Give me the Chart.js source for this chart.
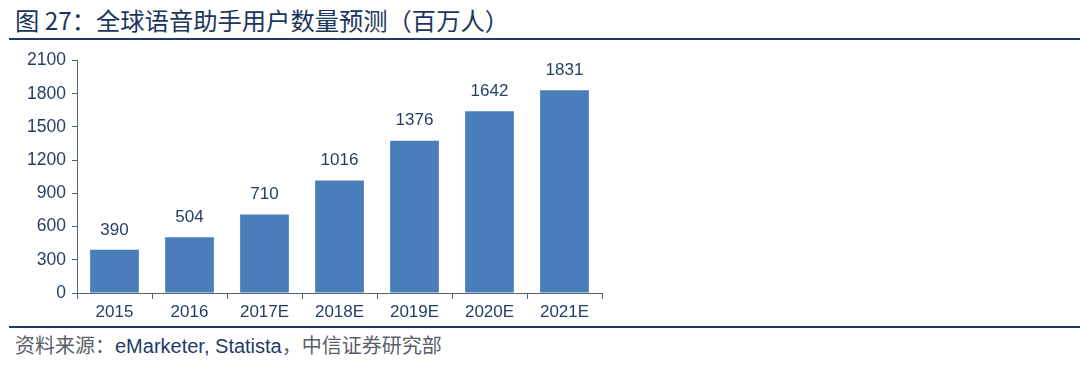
<!DOCTYPE html>
<html><head><meta charset="utf-8">
<script src="https://cdn.jsdelivr.net/npm/chart.js@4"></script>
<style>
html,body{margin:0;padding:0;background:#fff;width:1080px;height:365px;overflow:hidden;position:relative;}
#title{position:absolute;left:15px;top:4px;font-family:"Noto Sans CJK SC","Liberation Sans",sans-serif;font-size:24.3px;color:#1B365D;white-space:nowrap;line-height:32px;}
#line1{position:absolute;left:9px;right:0;top:38px;height:2px;background:#1F3A68;}
#line2{position:absolute;left:9px;right:0;top:326px;height:2px;background:#1F3A68;}
#src{position:absolute;left:15px;top:333px;font-size:20px;line-height:24px;white-space:nowrap;color:#333;}
#src .cn{font-family:"Noto Sans CJK SC",sans-serif;color:#5A5F6A;}
#src .en{font-family:"Liberation Sans",Arial,sans-serif;color:#1F3A68;}
#wrap{position:absolute;left:0;top:44px;width:612px;height:285px;}
</style></head>
<body>
<div id="title">图 27：全球语音助手用户数量预测（百万人）</div>
<div id="line1"></div>
<div id="wrap"><canvas id="c"></canvas></div>
<div id="line2"></div>
<div id="src"><span class="cn">资料来源：</span><span class="en">eMarketer, Statista</span><span class="cn">，中信证券研究部</span></div>
<script>
const categories = ["2015","2016","2017E","2018E","2019E","2020E","2021E"];
const users = [390,504,710,1016,1376,1642,1831];
const yTicks = [0,300,600,900,1200,1500,1800,2100];

const textColor = "#243F66";
const axisColor = "#5A6270";
const fontFam = "'Liberation Sans', Arial, sans-serif";

const labelPlugin = {
  id:"vals",
  afterDatasetsDraw(chart){
    const ctx = chart.ctx;
    const meta = chart.getDatasetMeta(0);
    ctx.save();
    ctx.font = "17px " + fontFam;
    ctx.fillStyle = textColor;
    ctx.textAlign = "center";
    ctx.textBaseline = "middle";
    meta.data.forEach((bar,i)=>{
      ctx.fillText(String(users[i]), bar.x, bar.y - 20);
    });
    ctx.restore();
  }
};

new Chart(document.getElementById("c"),{
  type:"bar",
  data:{labels:categories,datasets:[{data:users,backgroundColor:"#4A7EBB",borderWidth:0,categoryPercentage:1,barPercentage:0.65}]},
  options:{
    responsive:true,maintainAspectRatio:false,animation:false,
    layout:{padding:{top:10,right:10,left:0,bottom:0}},
    plugins:{legend:{display:false},tooltip:{enabled:false}},
    scales:{
      x:{
        grid:{display:true,drawOnChartArea:false,drawTicks:true,tickLength:6,color:axisColor,offset:true},
        border:{display:true,color:axisColor,width:1},
        ticks:{color:textColor,font:{size:17,family:fontFam},padding:3,maxRotation:0},
        afterFit(s){s.height=36;}
      },
      y:{
        min:0,max:2100,
        afterBuildTicks(s){s.ticks=yTicks.map(v=>({value:v}));},
        grid:{display:true,drawOnChartArea:false,drawTicks:true,tickLength:5,color:axisColor},
        border:{display:true,color:axisColor,width:1},
        ticks:{color:textColor,font:{size:17.5,family:fontFam},padding:6,callback:(v)=>String(v)},
        afterFit(s){s.width=77;}
      }
    }
  },
  plugins:[labelPlugin]
});
</script>
</body></html>
